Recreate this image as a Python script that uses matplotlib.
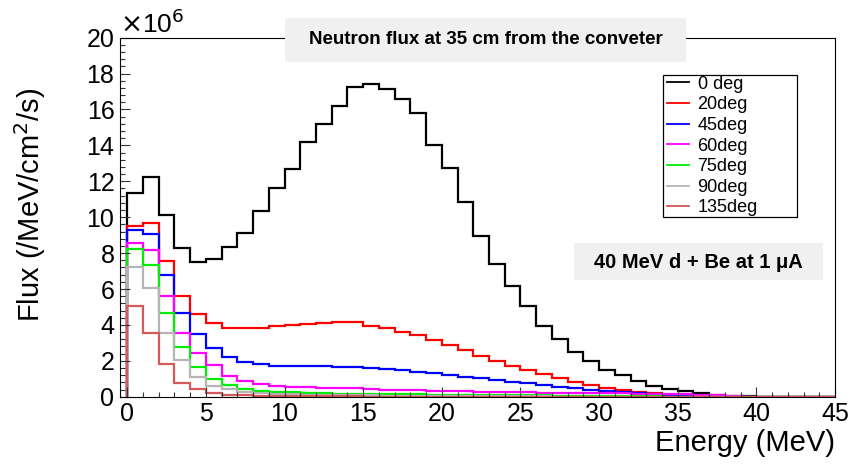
import numpy as np
import matplotlib.pyplot as plt
from matplotlib.patches import Rectangle

plt.rcParams["font.family"] = ["Liberation Sans", "DejaVu Sans"]

# bin edges in MeV (1 MeV bins)
edges = np.arange(0, 46, 1)

# flux per bin, in units of 1e6 /MeV/cm2/s
flux_0 = [11.37, 12.22, 10.1, 8.3, 7.5, 7.65, 8.35, 9.1, 10.35, 11.6,
          12.7, 14.2, 15.2, 16.2, 17.25, 17.42, 17.15, 16.6, 15.8, 14.05,
          12.75, 10.85, 8.95, 7.4, 6.15, 5.05, 3.92, 3.2, 2.5, 2.0,
          1.5, 1.2, 0.85, 0.6, 0.45, 0.3, 0.2, 0.1, 0.05, 0.02,
          0, 0, 0, 0, 0]
flux_20 = [9.51, 9.69, 7.55, 5.62, 4.62, 4.1, 3.85, 3.82, 3.85, 3.92,
           3.98, 4.05, 4.12, 4.15, 4.15, 3.96, 3.81, 3.62, 3.44, 3.16,
           2.88, 2.6, 2.28, 1.99, 1.71, 1.49, 1.25, 1.02, 0.82, 0.64,
           0.48, 0.36, 0.26, 0.18, 0.12, 0.08, 0.05, 0.03, 0.01, 0,
           0, 0, 0, 0, 0]
flux_45 = [9.27, 9.08, 6.76, 4.69, 3.49, 2.7, 2.23, 1.95, 1.8, 1.72,
           1.7, 1.7, 1.7, 1.68, 1.65, 1.6, 1.55, 1.47, 1.4, 1.32,
           1.22, 1.12, 1.03, 0.93, 0.84, 0.75, 0.65, 0.55, 0.46, 0.38,
           0.3, 0.24, 0.18, 0.13, 0.09, 0.06, 0.04, 0.02, 0.01, 0,
           0, 0, 0, 0, 0]
flux_60 = [8.58, 8.17, 5.6, 3.55, 2.42, 1.75, 1.15, 0.87, 0.71, 0.6,
           0.56, 0.53, 0.5, 0.48, 0.47, 0.42, 0.4, 0.39, 0.37, 0.33,
           0.31, 0.3, 0.28, 0.27, 0.25, 0.24, 0.23, 0.22, 0.21, 0.2,
           0.19, 0.18, 0.17, 0.16, 0.15, 0.14, 0.12, 0.1, 0.06, 0,
           0, 0, 0, 0, 0]
flux_75 = [8.21, 7.34, 4.68, 2.78, 1.67, 1.0, 0.65, 0.41, 0.33, 0.28,
           0.24, 0.21, 0.19, 0.17, 0.16, 0.15, 0.14, 0.13, 0.13, 0.12,
           0.12, 0.11, 0.1, 0.09, 0.09, 0.08, 0.07, 0.06, 0.05, 0.05,
           0.04, 0.03, 0.02, 0.02, 0.01, 0.01, 0, 0, 0, 0,
           0, 0, 0, 0, 0]
flux_90 = [7.2, 6.07, 3.53, 2.04, 1.11, 0.62, 0.41, 0.28, 0.2, 0.16,
           0.13, 0.11, 0.1, 0.09, 0.08, 0.07, 0.06, 0.06, 0.05, 0.05,
           0.04, 0.04, 0.03, 0.03, 0.02, 0.02, 0.02, 0.01, 0.01, 0.01,
           0.01, 0, 0, 0, 0, 0, 0, 0, 0, 0,
           0, 0, 0, 0, 0]
flux_135 = [5.08, 3.57, 1.8, 0.78, 0.41, 0.22, 0.1, 0.07, 0.05, 0.04,
            0.03, 0.03, 0.02, 0.02, 0.02, 0.01, 0.01, 0.01, 0.01, 0.01,
            0, 0, 0, 0, 0, 0, 0, 0, 0, 0,
            0, 0, 0, 0, 0, 0, 0, 0, 0, 0,
            0, 0, 0, 0, 0]

labels = ["0 deg", "20deg", "45deg", "60deg", "75deg", "90deg", "135deg"]
series = [flux_0, flux_20, flux_45, flux_60, flux_75, flux_90, flux_135]
colors = ["#000000", "#ff0000", "#0000ff", "#ff00ff", "#00ee00", "#b4b4b4", "#d25a5a"]

W, H = 852, 465
fig = plt.figure(figsize=(W / 100, H / 100), dpi=100)
ax = fig.add_axes([120 / W, 1 - 396.7 / H, 715 / W, 359 / H])

for vals, lab, col in zip(series, labels, colors):
    ax.stairs(vals, edges, baseline=0, color=col, lw=1.6, label=lab)

ax.set_xlim(-0.46, 45)
ax.set_ylim(0, 20)
ax.set_xticks(np.arange(0, 46, 5))
ax.set_xticks(np.arange(0, 46, 1), minor=True)
ax.set_yticks(np.arange(0, 21, 2))
ax.set_yticks(np.arange(0, 20.01, 0.4), minor=True)
ax.tick_params(which="both", direction="in", top=False, right=False,
               labelsize=18, width=0.8, color="#333333")
ax.tick_params(which="major", length=7, pad=4)
ax.tick_params(which="minor", length=3.5)
for sp in ax.spines.values():
    sp.set_linewidth(0.8)

fig.text(30 / W, 1 - 205 / H, "Flux (/MeV/cm$^2$/s)", fontsize=21, rotation=90,
         ha="center", va="center")
ax.set_xlabel("Energy (MeV)", fontsize=21, loc="right", labelpad=2)
fig.text(120 / W, 1 - 38 / H, r"$\times$10$^6$", fontsize=19, ha="left", va="bottom")

# title box
fig.patches.append(Rectangle((285 / W, 1 - 62 / H), 401 / W, 44 / H, transform=fig.transFigure,
                             fc="#f0f0f0", ec="none", zorder=3))
fig.text(485.5 / W, 1 - 40 / H, "Neutron flux at 35 cm from the conveter", fontsize=13.5,
         fontweight="bold", ha="center", va="center", zorder=4)

# beam label box
fig.patches.append(Rectangle((574 / W, 1 - 280 / H), 249 / W, 37 / H, transform=fig.transFigure,
                             fc="#f0f0f0", ec="none", zorder=3))
fig.text(698.5 / W, 1 - 262 / H, "40 MeV d + Be at 1 \u03bcA", fontsize=14.5,
         fontweight="bold", ha="center", va="center", zorder=4)

# legend with a fixed frame
ax.add_patch(Rectangle((663 / W, 1 - 217 / H), 134 / W, 142 / H, transform=fig.transFigure,
                       fc="white", ec="black", lw=0.9, zorder=4, clip_on=False))
leg = ax.legend(loc="upper left", bbox_to_anchor=(665 / W, 1 - 74 / H), bbox_transform=fig.transFigure,
                fontsize=13, frameon=False, handlelength=1.25,
                handletextpad=0.45, labelspacing=0.2, borderpad=0.1, borderaxespad=0)
leg.set_zorder(5)
for line in leg.get_lines():
    line.set_linewidth(1.3)

fig.savefig("out.png", dpi=100)
